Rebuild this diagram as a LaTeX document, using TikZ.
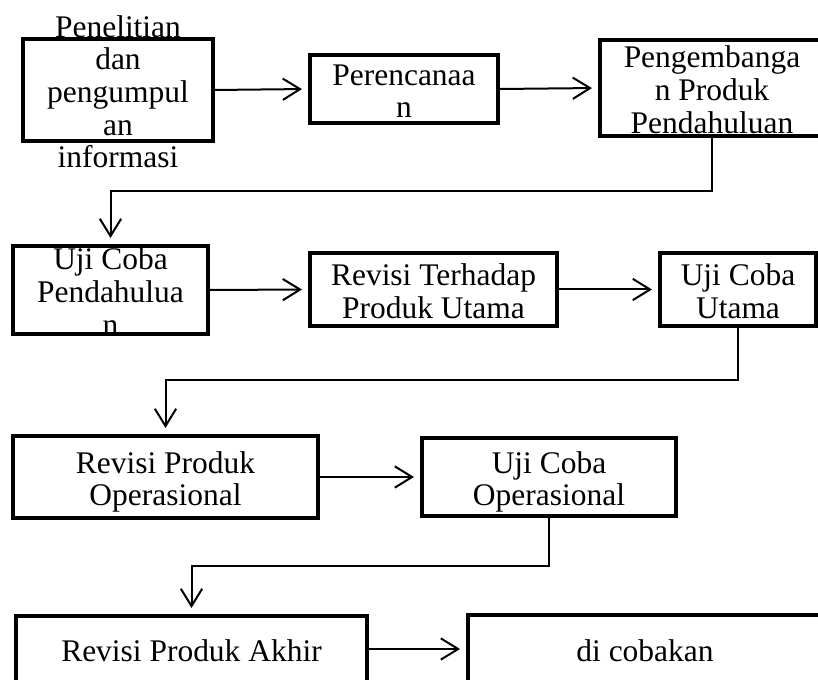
\documentclass[tikz,border=0pt]{standalone}
\usepackage{fontspec}
\setmainfont{Liberation Serif}
\usetikzlibrary{arrows.meta}
\newcommand{\boxlines}[1]{\smash{\raisebox{-0.45em}{\begin{tabular}{@{}c@{}}#1\end{tabular}}}}
\begin{document}
\begin{tikzpicture}[x=0.75pt,y=-0.75pt,
	tahap/.style={draw,line width=3pt,inner sep=0pt,font=\fontsize{23.6}{24.5}\selectfont},
	sz/.style 2 args={minimum width=#1*0.75pt,minimum height=#2*0.75pt},
	panah/.style={line width=1.5pt,-{Straight Barb[length=13pt,width=16pt]},shorten >=4.5pt}]
			\useasboundingbox (0,0) rectangle (818,680);
			\node (pen) at (118,90) [tahap,sz={190}{102}] {\boxlines{Penelitian\\dan\\pengumpul\\an\\informasi}};
			\node (per) at (404,89) [tahap,sz={188}{68}] {\boxlines{Perencanaa\\n}};
			\node (pgb) at (712,88) [tahap,sz={224}{96}] {\boxlines{Pengembanga\\n Produk\\Pendahuluan}};
			\node (ujp) at (110.5,290) [tahap,sz={195}{88}] {\boxlines{Uji Coba\\Pendahulua\\n}};
			\node (rtp) at (433.5,289.5) [tahap,sz={247}{73}] {\boxlines{Revisi Terhadap\\Produk Utama}};
			\node (ujc) at (738,289.5) [tahap,sz={156}{73}] {\boxlines{Uji Coba\\Utama}};
			\node (rpo) at (165.5,477) [tahap,sz={305}{82}] {\boxlines{Revisi Produk\\Operasional}};
			\node (uco) at (549,477) [tahap,sz={254}{78}] {\boxlines{Uji Coba\\Operasional}};
			\node (rpa) at (191.5,649) [tahap,sz={351}{66}] {\boxlines{Revisi Produk Akhir}};
			\node (dic) at (645,649) [tahap,sz={354}{67}] {\boxlines{di cobakan}};
			\draw[panah] (pen.east) -- (per.west);
			\draw[panah] (per.east) -- (pgb.west);
			\draw[panah] (pgb.south) -- ++(0,53) -| (ujp.north);
			\draw[panah] (ujp.east) -- (rtp.west);
			\draw[panah] (rtp.east) -- (ujc.west);
			\draw[panah] (ujc.south) -- ++(0,52) -| (rpo.north);
			\draw[panah] (rpo.east) -- (uco.west);
			\draw[panah] (uco.south) -- ++(0,48) -| (rpa.north);
			\draw[panah] (rpa.east) -- (dic.west);
		\end{tikzpicture}
\end{document}
